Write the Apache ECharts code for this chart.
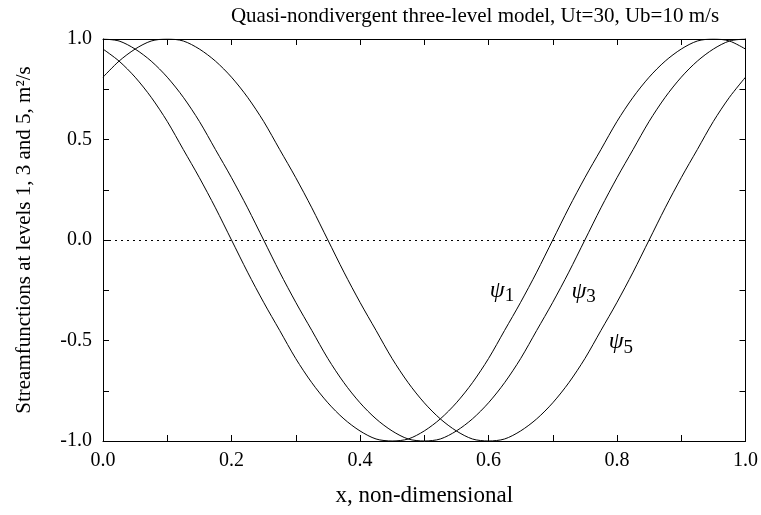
<!DOCTYPE html>
<html>
<head>
<meta charset="utf-8">
<script src="https://cdn.jsdelivr.net/npm/echarts@6/dist/echarts.min.js"></script>
<style>
	html, body { margin: 0; padding: 0; background: #fff; }
	#chart { width: 761px; height: 515px; }
</style>
</head>
<body>
<div id="chart"></div>
<script>
// x positions (non-dimensional)
var xs = [0, 0.025, 0.05, 0.075, 0.1, 0.125, 0.15, 0.175, 0.2, 0.225,
	0.25, 0.275, 0.3, 0.325, 0.35, 0.375, 0.4, 0.425, 0.45, 0.475,
	0.5, 0.525, 0.55, 0.575, 0.6, 0.625, 0.65, 0.675, 0.7, 0.725,
	0.75, 0.775, 0.8, 0.825, 0.85, 0.875, 0.9, 0.925, 0.95, 0.975, 1];

// streamfunction, level 1
var psi1 = [0.95, 0.89, 0.81, 0.71, 0.59, 0.45, 0.31, 0.16, 0, -0.16,
	-0.31, -0.45, -0.59, -0.71, -0.81, -0.89, -0.95, -0.99, -1, -0.99,
	-0.95, -0.89, -0.81, -0.71, -0.59, -0.45, -0.31, -0.16, 0, 0.16,
	0.31, 0.45, 0.59, 0.71, 0.81, 0.89, 0.95, 0.99, 1, 0.99, 0.95];

// streamfunction, level 3
var psi3 = [1, 0.99, 0.95, 0.89, 0.81, 0.71, 0.59, 0.45, 0.31, 0.16,
	0, -0.16, -0.31, -0.45, -0.59, -0.71, -0.81, -0.89, -0.95, -0.99,
	-1, -0.99, -0.95, -0.89, -0.81, -0.71, -0.59, -0.45, -0.31, -0.16,
	0, 0.16, 0.31, 0.45, 0.59, 0.71, 0.81, 0.89, 0.95, 0.99, 1];

// streamfunction, level 5
var psi5 = [0.81, 0.89, 0.95, 0.99, 1, 0.99, 0.95, 0.89, 0.81, 0.71,
	0.59, 0.45, 0.31, 0.16, 0, -0.16, -0.31, -0.45, -0.59, -0.71,
	-0.81, -0.89, -0.95, -0.99, -1, -0.99, -0.95, -0.89, -0.81, -0.71,
	-0.59, -0.45, -0.31, -0.16, 0, 0.16, 0.31, 0.45, 0.59, 0.71, 0.81];

var seriesNames = ['1', '3', '5'];
var seriesData = [psi1, psi3, psi5];
// where the psi labels sit
var labelAt = [[0.621, -0.25], [0.748, -0.255], [0.806, -0.507]];

var serif = '"Liberation Serif", "DejaVu Serif", serif';

function pairs(ys) {
	return xs.map(function (x, i) { return [x, ys[i]]; });
}

function xLabel(v) {
	var k = Math.round(v * 10);
	return k % 2 === 0 ? (k / 10).toFixed(1) : '';
}
function yLabel(v) {
	var k = Math.round(v * 4);
	return k % 2 === 0 ? (k / 4).toFixed(1) : '';
}

var tick = { show: true, inside: true, length: 6, lineStyle: { color: '#000', width: 1 } };
var axLine = { show: true, onZero: false, lineStyle: { color: '#000', width: 1 } };

var series = seriesData.map(function (ys, i) {
	return {
		name: 'psi' + seriesNames[i],
		type: 'line',
		data: pairs(ys),
		smooth: 0.3,
		showSymbol: false,
		symbol: 'none',
		silent: true,
		animation: false,
		lineStyle: { color: '#000', width: 1 },
		markPoint: {
			symbol: 'circle',
			symbolSize: 0,
			silent: true,
			label: {
				show: true,
				position: 'inside',
				formatter: '{a|\u03C8}{s|' + seriesNames[i] + '}',
				rich: {
					a: { fontFamily: serif, fontStyle: 'italic', fontSize: 24, color: '#000' },
					s: { fontFamily: serif, fontSize: 19, color: '#000', padding: [12, 0, 0, 0] }
				}
			},
			data: [{ coord: labelAt[i] }]
		}
	};
});

// dotted zero line
series.push({
	type: 'line',
	data: [],
	silent: true,
	animation: false,
	markLine: {
		symbol: 'none',
		silent: true,
		label: { show: false },
		lineStyle: { color: '#000', width: 1, type: [2, 4] },
		data: [{ yAxis: 0 }]
	}
});

var chart = echarts.init(document.getElementById('chart'));
chart.setOption({
	backgroundColor: '#fff',
	animation: false,
	title: {
		text: 'Quasi-nondivergent three-level model, Ut=30, Ub=10 m/s',
		left: 470,
		top: 1,
		textAlign: 'center',
		textStyle: { fontFamily: serif, fontSize: 21, fontWeight: 'normal', color: '#000' }
	},
	grid: { left: 103, right: 14, top: 39, bottom: 74 },
	xAxis: [{
		type: 'value',
		min: 0, max: 1, interval: 0.1,
		name: 'x, non-dimensional',
		nameLocation: 'middle',
		nameGap: 43,
		nameTextStyle: { fontFamily: serif, fontSize: 23, color: '#000' },
		axisLine: axLine,
		axisTick: tick,
		splitLine: { show: false },
		axisLabel: { formatter: xLabel, margin: 10, fontFamily: serif, fontSize: 20, color: '#000' }
	}, {
		type: 'value',
		position: 'top',
		min: 0, max: 1, interval: 0.1,
		axisLine: axLine,
		axisTick: tick,
		splitLine: { show: false },
		axisLabel: { show: false }
	}],
	yAxis: [{
		type: 'value',
		min: -1, max: 1, interval: 0.25,
		name: 'Streamfunctions at levels 1, 3 and 5, m\u00B2/s',
		nameLocation: 'middle',
		nameGap: 68,
		nameTextStyle: { fontFamily: serif, fontSize: 21, color: '#000' },
		axisLine: axLine,
		axisTick: tick,
		splitLine: { show: false },
		axisLabel: { formatter: yLabel, margin: 11, fontFamily: serif, fontSize: 20, color: '#000' }
	}, {
		type: 'value',
		position: 'right',
		min: -1, max: 1, interval: 0.25,
		axisLine: axLine,
		axisTick: tick,
		splitLine: { show: false },
		axisLabel: { show: false }
	}],
	series: series
});
</script>
</body>
</html>
